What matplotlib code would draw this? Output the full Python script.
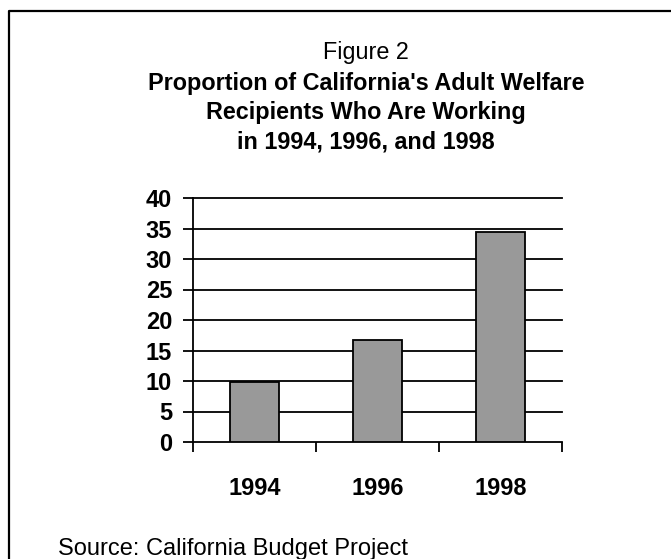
import matplotlib
matplotlib.use("Agg")
import matplotlib.pyplot as plt
from matplotlib.lines import Line2D

plt.rcParams['font.family'] = ['Liberation Sans', 'DejaVu Sans']

years = ['1994', '1996', '1998']
pct_working = [9.8, 16.8, 34.5]
yticks = [0, 5, 10, 15, 20, 25, 30, 35, 40]

W, H = 671, 559
fig = plt.figure(figsize=(W / 100, H / 100), dpi=100)
ax = fig.add_axes([193 / W, 1 - 442 / H, (562 - 193) / W, (442 - 198) / H])

# gridlines
for v in yticks[1:]:
    ax.axhline(v, color='black', lw=1.3, zorder=1, clip_on=False)

x = range(len(years))
ax.bar(x, pct_working, width=0.4, color='#999999', edgecolor='black', linewidth=1.3, zorder=3)

ax.set_xlim(-0.5, len(years) - 0.5)
ax.set_ylim(0, 40)
ax.set_yticks(yticks)
ax.set_yticklabels([str(v) for v in yticks], fontsize=17, fontweight='bold')
ax.tick_params(axis='y', direction='out', length=7, width=1.3, pad=8)

# category boundary ticks, labels in the middle
ax.set_xticks([-0.5, 0.5, 1.5, 2.5])
ax.set_xticklabels([])
ax.set_xticks(list(x), minor=True)
ax.set_xticklabels(years, minor=True, fontsize=17, fontweight='bold')
ax.tick_params(axis='x', which='major', direction='out', length=7, width=1.3)
ax.tick_params(axis='x', which='minor', length=0, pad=25)

for s in ['top', 'right']:
    ax.spines[s].set_visible(False)
for s in ['left', 'bottom']:
    ax.spines[s].set_linewidth(1.3)

# title block
cx = 366 / W
fig.text(cx, 1 - 59 / H, 'Figure 2', ha='center', va='baseline', fontsize=16.8)
lines = ["Proportion of California's Adult Welfare",
         "Recipients Who Are Working",
         "in 1994, 1996, and 1998"]
for i, t in enumerate(lines):
    fig.text(cx, 1 - (90 + 29 * i) / H, t, ha='center', va='baseline',
             fontsize=16.8, fontweight='bold')

fig.text(58 / W, 1 - 555 / H, 'Source: California Budget Project',
         ha='left', va='baseline', fontsize=17)

# outer frame (cropped at right and bottom)
fig.add_artist(Line2D([9 / W, 9 / W, 1.0], [0.0, 1 - 11 / H, 1 - 11 / H],
                      transform=fig.transFigure, color='black', lw=1.6))

fig.savefig('out.png', dpi=100)
